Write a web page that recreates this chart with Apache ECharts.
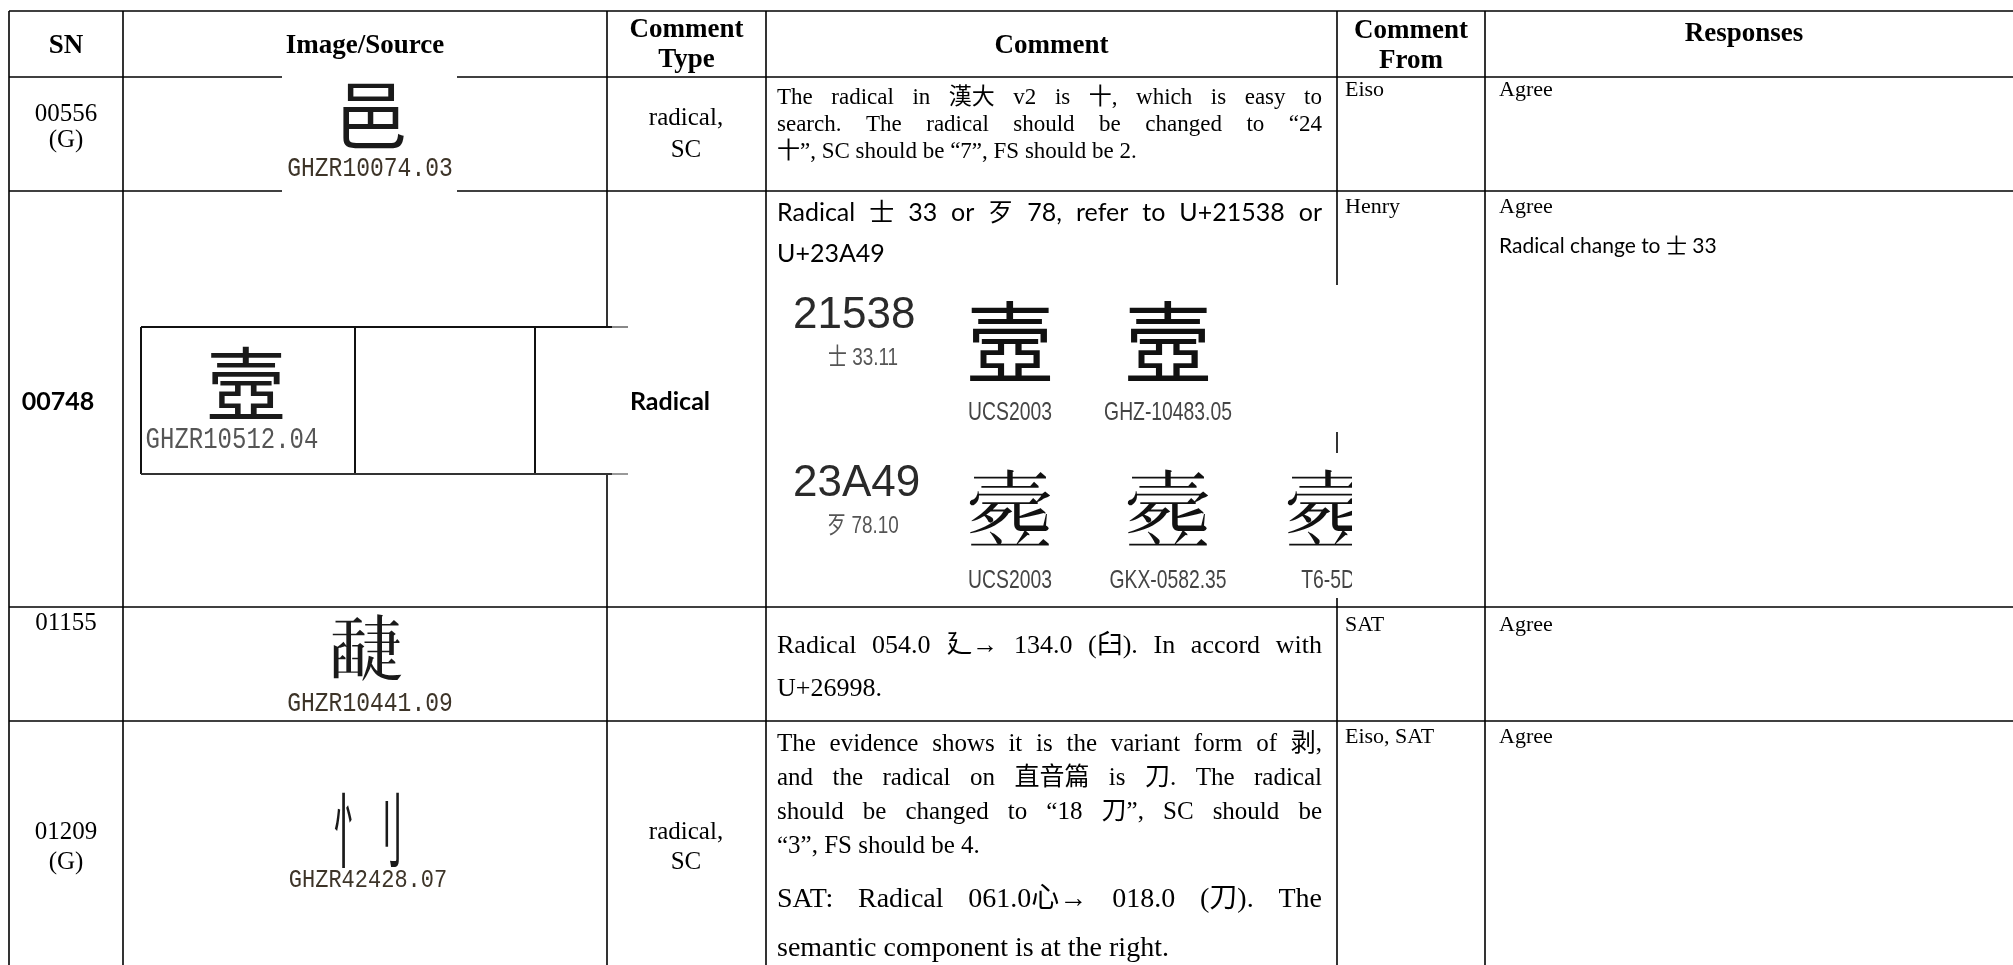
<!DOCTYPE html>
<html><head><meta charset="utf-8">
<script src="https://cdn.jsdelivr.net/npm/echarts@6/dist/echarts.min.js"></script>
<style>html,body{margin:0;padding:0;background:#fff;overflow:hidden}#c{width:2013px;height:965px}</style>
</head><body><div id="c"></div>
<script>
// ---------------- data ----------------
const headers = ['SN', 'Image/Source', 'Comment\nType', 'Comment', 'Comment\nFrom', 'Responses'];
const serialNumbers = ['00556\n(G)', '00748', '01155', '01209\n(G)'];
const sourceGlyphs = ['邑', '壼', '𦦘', '忄刂'];
const sourceCodes = ['GHZR10074.03', 'GHZR10512.04', 'GHZR10441.09', 'GHZR42428.07'];
const commentTypes = ['radical,\nSC', 'Radical', '', 'radical,\nSC'];
const comments = [
  [['The radical in 漢大 v2 is 十, which is easy to', 'search. The radical should be changed to “24', '十”, SC should be “7”, FS should be 2.']],
  [['Radical 士 33 or 歹 78, refer to U+21538 or', 'U+23A49']],
  [['Radical 054.0 廴→ 134.0 (臼). In accord with', 'U+26998.']],
  [['The evidence shows it is the variant form of 剥,', 'and the radical on 直音篇 is 刀. The radical', 'should be changed to “18 刀”, SC should be', '“3”, FS should be 4.'],
   ['SAT: Radical 061.0心→ 018.0 (刀). The', 'semantic component is at the right.']]
];
const commentFrom = ['Eiso', 'Henry', 'SAT', 'Eiso, SAT'];
const responses = [['Agree'], ['Agree', 'Radical change to 士 33'], ['Agree'], ['Agree']];
const evidenceCodes = ['21538', '23A49'];
const evidenceRadicals = ['士 33.11', '歹 78.10'];
const evidenceGlyphs = [['壼', '壼'], ['𣩉', '𣩉', '𣩉']];
const evidenceSources = [['UCS2003', 'GHZ-10483.05'], ['UCS2003', 'GKX-0582.35', 'T6-5D']];

// ---------------- layout & style ----------------
const SERIF = "'Liberation Serif','Times New Roman','Noto Sans CJK SC','Noto Sans CJK TC','Noto Sans CJK JP',serif";
const SANS = "Lato,'Noto Sans CJK SC','Noto Sans CJK TC',sans-serif";
const ARIAL = "'Liberation Sans',Arial,'Noto Sans CJK SC',sans-serif";
const MONO = "'Liberation Mono','DejaVu Sans Mono',monospace";
const CJK = "'Noto Sans CJK SC','Noto Sans CJK TC','Noto Sans CJK JP','Noto Sans CJK KR',sans-serif";
const FAM = {serif: SERIF, sans: SANS};

const L = {
  W: 2013, H: 965,
  cols: [9, 123, 607, 766, 1337, 1485, 2040],
  rows: [11, 77, 191, 607, 721, 1000],
  headerY: [46, 46, 45, 46, 46, 34], headerX5: 1744, headerLH: 30, headerSize: 27,
  snY: [127, 402, 623, 847], snLH: [26, 26, 26, 30], snSize: 25,
  ctX: [686, 670, 686, 686], ctY: [134, 402, 0, 847], ctLH: [32, 32, 32, 30], ctSize: 25,
  fromX: 1345, respX: 1499, firstY: [90, 207, 625, 737], respLH: 39, smallSize: 22, respSans: 21,
  commentX: [777, 1322],
  commentPara: [
    [{y: 98, lh: 27, size: 23, fam: 'serif'}],
    [{y: 213, lh: 41, size: 25, fam: 'sans'}],
    [{y: 646, lh: 43, size: 26, fam: 'serif'}],
    [{y: 744, lh: 34, size: 25, fam: 'serif'}, {y: 900, lh: 49, size: 28, fam: 'serif'}]
  ],
  src: [
    {box: [282, 74, 457, 197], glyph: [371, 115, 74, 74], code: [370, 169, 23]},
    {box: [141, 327, 628, 474], frame: [141, 355, 535, 612], glyph: [246, 384, 80, 80], code: [232, 440, 24]},
    {glyph: [366, 649, 74, 74], code: [370, 704, 23]},
    {glyph: [368, 830, 82, 70], code: [368, 880, 22]}
  ],
  evid: {x0: 775, x1: 1352, tops: [285, 453], bottoms: [432, 598], codeX: 793, radX: 863,
         glyphX: [1010, 1168, 1328], dCode: 31, dRad: 73, dGlyph: 57, dLabel: 128, glyphSize: 88}
};

const mctx = document.createElement('canvas').getContext('2d');
function fontStr(size, fam, weight) { return (weight || 'normal') + ' ' + size + 'px ' + fam; }
function measure(t, size, fam, weight) { mctx.font = fontStr(size, fam, weight); return mctx.measureText(t).width; }

function txt(api, x, y, text, o) {
  const p = api.coord([x, y]);
  const el = {
    type: 'text', x: p[0], y: p[1],
    style: {
      x: 0, y: 0, text: text, fontSize: o.size, fontFamily: o.fam, fontWeight: o.weight || 'normal',
      fill: o.fill || '#000', align: o.align || 'left', verticalAlign: 'middle',
      lineHeight: o.lh || undefined
    }
  };
  if (o.scaleX) el.scaleX = o.scaleX;
  if (o.scaleY) el.scaleY = o.scaleY;
  return el;
}

function lineEls(api, text, x0, x1, y, size, fam, justify) {
  if (!justify) return [txt(api, x0, y, text, {size: size, fam: fam})];
  const words = text.split(' ').filter(Boolean);
  const ws = words.map(w => measure(w, size, fam));
  const total = ws.reduce((a, b) => a + b, 0);
  const gap = words.length > 1 ? (x1 - x0 - total) / (words.length - 1) : 0;
  let x = x0;
  return words.map((w, i) => { const el = txt(api, x, y, w, {size: size, fam: fam}); x += ws[i] + gap; return el; });
}

// ---------------- series renderers ----------------
const ruleData = [];
L.rows.slice(0, 5).forEach((y, i) => ruleData.push([0, i]));
L.cols.slice(0, 6).forEach((x, i) => ruleData.push([1, i]));

function renderRule(params, api) {
  const d = ruleData[params.dataIndex];
  let a, b;
  if (d[0] === 0) { a = api.coord([L.cols[0], L.rows[d[1]]]); b = api.coord([L.W, L.rows[d[1]]]); }
  else { a = api.coord([L.cols[d[1]], L.rows[0]]); b = api.coord([L.cols[d[1]], L.H]); }
  return {type: 'line', shape: {x1: a[0], y1: a[1], x2: b[0], y2: b[1]}, style: {stroke: '#000', lineWidth: 1.6}};
}

function renderSource(params, api) {
  const i = params.dataIndex, s = L.src[i], ch = [];
  if (s.box) {
    const p = api.coord([s.box[0], s.box[1]]), q = api.coord([s.box[2], s.box[3]]);
    ch.push({type: 'rect', shape: {x: p[0], y: p[1], width: q[0] - p[0], height: q[1] - p[1]}, style: {fill: '#fff'}});
  }
  if (s.frame) {
    const [fx, v1, v2, dark] = s.frame, t = s.box[1], b = s.box[3], r = s.box[2];
    const seg = (x1, y1, x2, y2, c) => { const a = api.coord([x1, y1]), z = api.coord([x2, y2]);
      ch.push({type: 'line', shape: {x1: a[0], y1: a[1], x2: z[0], y2: z[1]}, style: {stroke: c, lineWidth: 2}}); };
    seg(fx, t, fx, b, '#111'); seg(v1, t, v1, b, '#111'); seg(v2, t, v2, b, '#111');
    seg(fx, t, dark, t, '#111'); seg(fx, b, dark, b, '#333');
    seg(dark, t, r, t, '#888'); seg(dark, b, r, b, '#999');
  }
  const g = s.glyph, gw = measure(sourceGlyphs[i], g[2], CJK);
  ch.push(txt(api, g[0], g[1], sourceGlyphs[i], {size: g[2], fam: CJK, fill: '#1a1a1a', align: 'center', scaleX: Math.min(1, g[3] / gw)}));
  ch.push(txt(api, s.code[0], s.code[1], sourceCodes[i], {size: s.code[2], fam: MONO, fill: i === 1 ? '#555' : '#3d3428', align: 'center', scaleY: 1.2}));
  return {type: 'group', children: ch};
}

function renderEvidence(params, api) {
  const i = params.dataIndex, E = L.evid, top = E.tops[i], bot = E.bottoms[i], ch = [];
  const p = api.coord([E.x0, top]), q = api.coord([E.x1, bot]);
  ch.push({type: 'rect', shape: {x: p[0], y: p[1], width: q[0] - p[0], height: q[1] - p[1]}, style: {fill: '#fff'}});
  ch.push(txt(api, E.codeX, top + E.dCode, evidenceCodes[i], {size: 44, fam: ARIAL, fill: '#2a2a2a'}));
  ch.push(txt(api, E.radX, top + E.dRad, evidenceRadicals[i], {size: 21, fam: ARIAL, fill: '#555', align: 'center', scaleX: 0.9, scaleY: 1.15}));
  evidenceGlyphs[i].forEach((gch, k) => {
    ch.push(txt(api, E.glyphX[k], top + E.dGlyph, gch, {size: E.glyphSize, fam: CJK, fill: '#111', align: 'center'}));
    ch.push(txt(api, E.glyphX[k], top + E.dLabel, evidenceSources[i][k], {size: 21, fam: ARIAL, fill: '#444', align: 'center', scaleX: 0.92, scaleY: 1.2}));
  });
  return {type: 'group', children: ch,
          clipPath: {type: 'rect', shape: {x: p[0], y: p[1], width: q[0] - p[0], height: q[1] - p[1]}}};
}

function colCenter(c) { return (L.cols[c] + L.cols[c + 1]) / 2; }

function renderRow(params, api) {
  const r = params.dataIndex, ch = [];
  if (r === 0) {
    headers.forEach((h, c) => {
      const cx = c === 5 ? L.headerX5 : colCenter(c);
      ch.push(txt(api, cx, L.headerY[c], h, {size: L.headerSize, fam: SERIF, weight: 'bold', align: 'center', lh: L.headerLH}));
    });
    return {type: 'group', children: ch};
  }
  const i = r - 1;
  const special = i === 1;
  ch.push(txt(api, special ? 58 : colCenter(0), L.snY[i], serialNumbers[i],
    {size: special ? 25 : L.snSize, fam: special ? SANS : SERIF, weight: special ? 'bold' : 'normal', align: 'center', lh: L.snLH[i]}));
  if (commentTypes[i]) ch.push(txt(api, L.ctX[i], L.ctY[i], commentTypes[i],
    {size: special ? 25 : L.ctSize, fam: special ? SANS : SERIF, weight: special ? 'bold' : 'normal', align: 'center', lh: L.ctLH[i]}));
  comments[i].forEach((para, pi) => {
    const lp = L.commentPara[i][pi], fam = FAM[lp.fam];
    para.forEach((line, j) => {
      lineEls(api, line, L.commentX[0], L.commentX[1], lp.y + j * lp.lh, lp.size, fam, j < para.length - 1).forEach(e => ch.push(e));
    });
  });
  ch.push(txt(api, L.fromX, L.firstY[i], commentFrom[i], {size: L.smallSize, fam: SERIF}));
  responses[i].forEach((t, j) => {
    ch.push(txt(api, L.respX, L.firstY[i] + j * L.respLH, t, {size: j === 0 ? L.smallSize : L.respSans, fam: j === 0 ? SERIF : SANS}));
  });
  return {type: 'group', children: ch};
}

const chart = echarts.init(document.getElementById('c'), null, {renderer: 'canvas'});
chart.setOption({
  backgroundColor: '#fff',
  animation: false,
  grid: {left: 0, right: 0, top: 0, bottom: 0},
  xAxis: {type: 'value', min: 0, max: L.W, show: false},
  yAxis: {type: 'value', min: 0, max: L.H, inverse: true, show: false},
  series: [
    {type: 'custom', name: 'rules', silent: true, clip: false, z: 1, renderItem: renderRule, data: ruleData},
    {type: 'custom', name: 'sources', silent: true, clip: false, z: 2, renderItem: renderSource, data: sourceCodes.map((c, i) => [i, 0])},
    {type: 'custom', name: 'evidence', silent: true, clip: false, z: 2, renderItem: renderEvidence, data: evidenceCodes.map((c, i) => [i, 0])},
    {type: 'custom', name: 'rows', silent: true, clip: false, z: 3, renderItem: renderRow, data: [0, 1, 2, 3, 4].map(r => [r, 0])}
  ]
});
</script>
</body></html>
